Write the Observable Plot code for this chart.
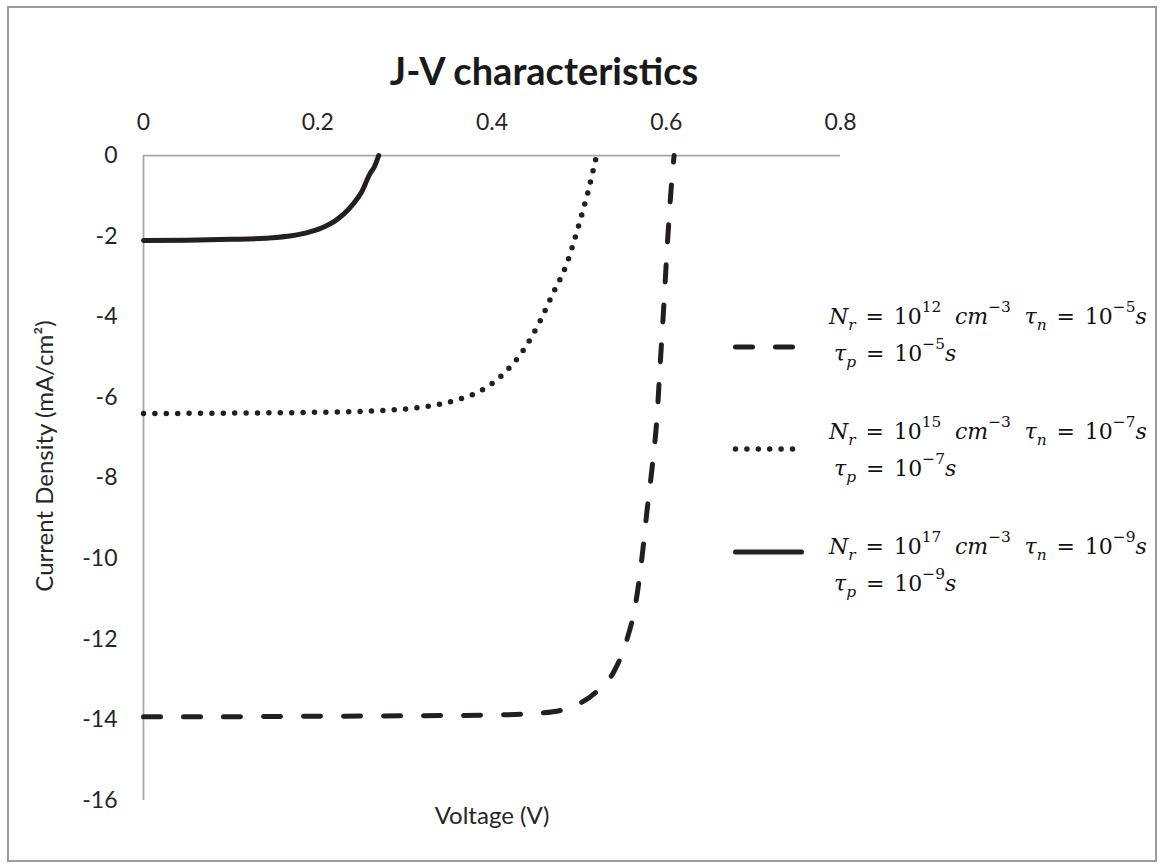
<!DOCTYPE html>
<html>
<head>
<meta charset="utf-8">
<script src="https://cdn.jsdelivr.net/npm/d3@7"></script>
<script src="https://cdn.jsdelivr.net/npm/@observablehq/plot@0.6"></script>
<style>
  body { margin: 0; background: #fff; }
  #chart { position: relative; width: 1160px; height: 867px; overflow: hidden; background: #fff; }
  #chart svg.plot-main { position: absolute; left: 0; top: 0; }
  #frame { position: absolute; left: 7px; top: 6px; width: 1146px; height: 852px; border: 2px solid #9b9b9b; pointer-events: none; }
  #chart svg.swatch { position: absolute; left: 728px; width: 84px; height: 14px; overflow: visible; }
  .ltext { position: absolute; left: 829px; font-family: "DejaVu Serif", serif; font-size: 22px; line-height: 22px; color: #111; white-space: nowrap; }
  .ltext i { font-style: italic; }
  .ltext sup, .ltext sub { font-size: 0.7em; line-height: 0; position: relative; vertical-align: baseline; }
  .ltext sup { top: -0.8em; }
  .ltext sub { top: 0.42em; }
  .ltext .eq { margin: 0 0.45em; }
  .ltext .gap { margin-left: 0.3em; }
</style>
</head>
<body>
<div id="chart"><div id="frame"></div></div>
<script>
// Axis ticks
const xTicks = [0, 0.2, 0.4, 0.6, 0.8];
const yTicks = [-16, -14, -12, -10, -8, -6, -4, -2, 0];

// J-V curves: voltage (V) and current density (mA/cm²) for each recombination setting
const v12 = [0, 0.1, 0.2, 0.3, 0.4, 0.45, 0.48, 0.50, 0.52, 0.54, 0.555, 0.565, 0.572, 0.578, 0.584, 0.589, 0.593, 0.597, 0.601, 0.605, 0.609];
const j12 = [-13.92, -13.92, -13.91, -13.90, -13.88, -13.84, -13.76, -13.60, -13.30, -12.80, -12.00, -11.10, -10.00, -8.80, -7.70, -6.60, -5.20, -3.80, -2.30, -1.00, 0];

const v15 = [0, 0.1, 0.2, 0.28, 0.32, 0.36, 0.39, 0.41, 0.435, 0.455, 0.47, 0.485, 0.50, 0.51, 0.52];
const j15 = [-6.40, -6.39, -6.37, -6.32, -6.24, -6.06, -5.80, -5.48, -4.86, -4.12, -3.42, -2.73, -1.70, -0.92, 0];

const v17 = [0, 0.05, 0.10, 0.14, 0.17, 0.19, 0.21, 0.22, 0.23, 0.24, 0.25, 0.26, 0.265, 0.27];
const j17 = [-2.11, -2.10, -2.08, -2.05, -1.99, -1.90, -1.74, -1.62, -1.45, -1.22, -0.92, -0.45, -0.28, 0];

// Legend labels (math set with sub/superscripts)
const legendLabels = [
  ["<i>N</i><sub><i>r</i></sub><span class='eq'>=</span>10<sup>12</sup><span class='gap'> </span><i>cm</i><sup>−3</sup><span class='gap'> </span><i>τ</i><sub><i>n</i></sub><span class='eq'>=</span>10<sup>−5</sup><i>s</i>",
   "<i>τ</i><sub><i>p</i></sub><span class='eq'>=</span>10<sup>−5</sup><i>s</i>"],
  ["<i>N</i><sub><i>r</i></sub><span class='eq'>=</span>10<sup>15</sup><span class='gap'> </span><i>cm</i><sup>−3</sup><span class='gap'> </span><i>τ</i><sub><i>n</i></sub><span class='eq'>=</span>10<sup>−7</sup><i>s</i>",
   "<i>τ</i><sub><i>p</i></sub><span class='eq'>=</span>10<sup>−7</sup><i>s</i>"],
  ["<i>N</i><sub><i>r</i></sub><span class='eq'>=</span>10<sup>17</sup><span class='gap'> </span><i>cm</i><sup>−3</sup><span class='gap'> </span><i>τ</i><sub><i>n</i></sub><span class='eq'>=</span>10<sup>−9</sup><i>s</i>",
   "<i>τ</i><sub><i>p</i></sub><span class='eq'>=</span>10<sup>−9</sup><i>s</i>"]
];

const ink = "#231f20";
const toRows = (vs, js) => vs.map((v, i) => ({v, j: js[i]}));
const rows12 = toRows(v12, j12);
const rows15 = toRows(v15, j15);
const rows17 = toRows(v17, j17);

const dashed = {strokeDasharray: "17,23", strokeLinecap: "round"};
const dotted = {strokeDasharray: "0,11.4", strokeLinecap: "round"};
const solid = {strokeLinecap: "round"};

const plot = Plot.plot({
  width: 1160,
  height: 867,
  marginLeft: 143,
  marginRight: 320,
  marginTop: 155,
  marginBottom: 67,
  className: "plot-main",
  style: {fontFamily: "Lato, sans-serif", fontSize: "23px", color: "#262626", background: "transparent"},
  x: {domain: [0, 0.8]},
  y: {domain: [-16, 0]},
  marks: [
    Plot.axisX({anchor: "top", ticks: xTicks, tickSize: 0, tickPadding: 26, tickFormat: d => String(d), label: null}),
    Plot.axisY({ticks: yTicks, tickSize: 0, tickPadding: 26, tickFormat: d => String(d), label: null}),
    Plot.ruleY([0], {stroke: "#a6a6a6", strokeWidth: 1.75}),
    Plot.ruleX([0], {stroke: "#a6a6a6", strokeWidth: 1.75}),
    Plot.line(rows12, {x: "v", y: "j", stroke: ink, strokeWidth: 5, curve: "monotone-x", ...dashed}),
    Plot.line(rows15, {x: "v", y: "j", stroke: ink, strokeWidth: 5.5, curve: "monotone-x", ...dotted}),
    Plot.line(rows17, {x: "v", y: "j", stroke: ink, strokeWidth: 5, curve: "monotone-x", ...solid}),
    Plot.text(["J-V characteristics"], {frameAnchor: "top", text: d => d, textAnchor: "middle", dx: 52, dy: -97, fontSize: 38, fontWeight: "bold", fill: "#1a1a1a"}),
    Plot.text(["Voltage (V)"], {frameAnchor: "bottom", text: d => d, textAnchor: "middle", dy: 23, fontSize: 24, fill: "#262626"}),
    Plot.text(["Current Density (mA/cm²)"], {frameAnchor: "left", text: d => d, textAnchor: "middle", rotate: -90, dx: -98, dy: -22, fontSize: 24, fill: "#262626"})
  ]
});

const chart = document.getElementById("chart");
chart.insertBefore(plot, chart.firstChild);

// Legend: line swatch plus two text lines per entry
const swatchStyles = [dashed, dotted, solid];
const swatchWidths = [5, 5.5, 5];
const swatchEnds = [795, 797, 804];
const swatchY = [347, 449, 552];
const firstBaseline = [325, 440, 555];
const lineGap = 37;
legendLabels.forEach((lines, i) => {
  const ns = "http://www.w3.org/2000/svg";
  const svg = document.createElementNS(ns, "svg");
  svg.setAttribute("class", "swatch");
  svg.setAttribute("width", 84);
  svg.setAttribute("height", 14);
  svg.style.top = (swatchY[i] - 7) + "px";
  const ln = document.createElementNS(ns, "line");
  ln.setAttribute("x1", 733 - 728 + 2.5);
  ln.setAttribute("x2", swatchEnds[i] - 728 - 2.5);
  ln.setAttribute("y1", 7);
  ln.setAttribute("y2", 7);
  ln.setAttribute("stroke", ink);
  ln.setAttribute("stroke-width", swatchWidths[i]);
  const st = swatchStyles[i];
  if (st.strokeDasharray) ln.setAttribute("stroke-dasharray", st.strokeDasharray);
  ln.setAttribute("stroke-linecap", st.strokeLinecap);
  svg.appendChild(ln);
  chart.appendChild(svg);
  lines.forEach((html, k) => {
    const div = document.createElement("div");
    div.className = "ltext";
    div.innerHTML = html;
    div.style.top = (firstBaseline[i] + k * lineGap - 19) + "px";
    if (k === 1) div.style.left = "834px";
    chart.appendChild(div);
  });
});
</script>
</body>
</html>
